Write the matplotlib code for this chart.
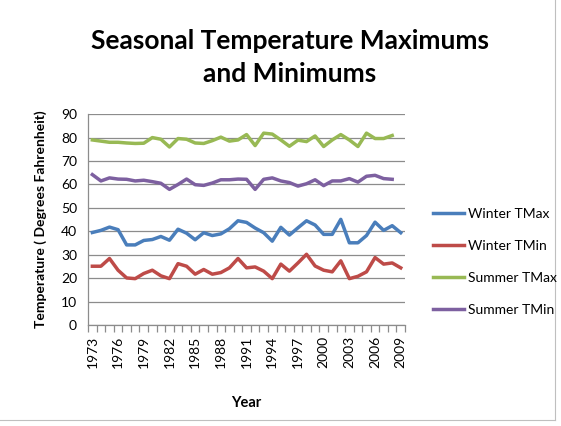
import matplotlib
matplotlib.use("Agg")
import matplotlib.pyplot as plt
import numpy as np
from matplotlib.lines import Line2D

years = list(range(1973, 2010))
winter_tmax = [39.5, 40.4, 41.8, 40.7, 34.2, 34.2, 36.1, 36.5, 37.8, 36.2, 40.9, 39.2, 36.4,
               39.4, 38.2, 38.9, 41.1, 44.5, 43.8, 41.4, 39.4, 35.8, 41.7, 38.4, 41.5, 44.5,
               42.7, 38.7, 38.7, 45.1, 35.1, 35.1, 38.2, 43.9, 40.4, 42.4, 39.4]
winter_tmin = [25.1, 25.1, 28.4, 23.4, 20.1, 19.8, 22.0, 23.4, 21.0, 19.8, 26.2, 25.1, 21.7,
               23.7, 21.7, 22.4, 24.4, 28.4, 24.4, 24.8, 23.0, 19.8, 26.0, 23.0, 26.5, 30.2,
               25.2, 23.4, 22.7, 27.4, 19.8, 20.8, 22.7, 28.8, 26.0, 26.5, 24.4]
summer_tmax = [79.0, 78.5, 78.0, 78.0, 77.7, 77.5, 77.6, 80.0, 79.3, 76.0, 79.6, 79.3, 77.7,
               77.5, 78.7, 80.2, 78.5, 79.0, 81.3, 76.6, 81.9, 81.5, 79.0, 76.3, 78.9, 78.3,
               80.7, 76.2, 79.0, 81.3, 79.0, 76.2, 81.9, 79.6, 79.6, 80.9, np.nan]
summer_tmin = [64.2, 61.5, 62.8, 62.3, 62.2, 61.5, 61.8, 61.2, 60.5, 57.9, 60.0, 62.3, 59.9,
               59.6, 60.6, 62.0, 62.0, 62.3, 62.2, 57.9, 62.2, 62.8, 61.5, 60.8, 59.3, 60.3,
               62.0, 59.5, 61.5, 61.5, 62.5, 61.0, 63.5, 63.9, 62.5, 62.2, np.nan]

series = [("Winter TMax", winter_tmax, "#4A7EBB"),
          ("Winter TMin", winter_tmin, "#BE4B48"),
          ("Summer TMax", summer_tmax, "#98B954"),
          ("Summer TMin", summer_tmin, "#7D60A0")]

plt.rcParams['font.family'] = ['Lato', 'DejaVu Sans']

fig = plt.figure(figsize=(5.61, 4.26), dpi=100)
ax = fig.add_axes([0.157, 0.237, 0.565, 0.495])

x = np.arange(len(years))
for name, vals, col in series:
    ax.plot(x, vals, color=col, lw=2.5, label=name, solid_joinstyle='round')

ax.set_xlim(-0.5, len(years) - 0.5)
ax.set_ylim(0, 90)
ax.set_yticks(range(0, 91, 10))
ax.grid(axis='y', color='#8C8C8C', lw=0.9)
ax.set_axisbelow(True)

ax.set_xticks(np.arange(-0.5, len(years), 1), minor=True)
ax.set_xticks(x[::3])
ax.set_xticklabels([str(y) for y in years[::3]], rotation=90, fontsize=10)
ax.tick_params(axis='x', which='major', length=0, pad=8)
ax.tick_params(axis='x', which='minor', length=5, color='#8C8C8C', width=0.9)
ax.tick_params(axis='y', length=0, labelsize=10, pad=8)

for s in ['top', 'right']:
    ax.spines[s].set_visible(False)
for s in ['left', 'bottom']:
    ax.spines[s].set_color('#8C8C8C')
    ax.spines[s].set_linewidth(0.9)

ax.set_ylabel("Temperature ( Degrees Fahrenheit)", fontsize=10, fontweight='bold', labelpad=10)
ax.set_xlabel("Year", fontsize=10.5, fontweight='bold', labelpad=20)

fig.text(0.517, 0.866, "Seasonal Temperature Maximums\nand Minimums", ha='center', va='center',
         fontsize=19, fontweight='bold', linespacing=1.45)

handles = [Line2D([0], [0], color=c, lw=2.5) for _, _, c in series]
fig.legend(handles, [n for n, _, _ in series], loc='center left',
           bbox_to_anchor=(0.75, 0.385), frameon=False, fontsize=10,
           handlelength=2.2, labelspacing=1.45, handletextpad=0.3)

# chart area border (right and bottom visible)
fig.add_artist(Line2D([0.989, 0.989], [0.014, 1.0], transform=fig.transFigure, color='#BFBFBF', lw=0.8))
fig.add_artist(Line2D([0.0, 0.989], [0.014, 0.014], transform=fig.transFigure, color='#BFBFBF', lw=0.8))

fig.savefig("out.png", dpi=100)
